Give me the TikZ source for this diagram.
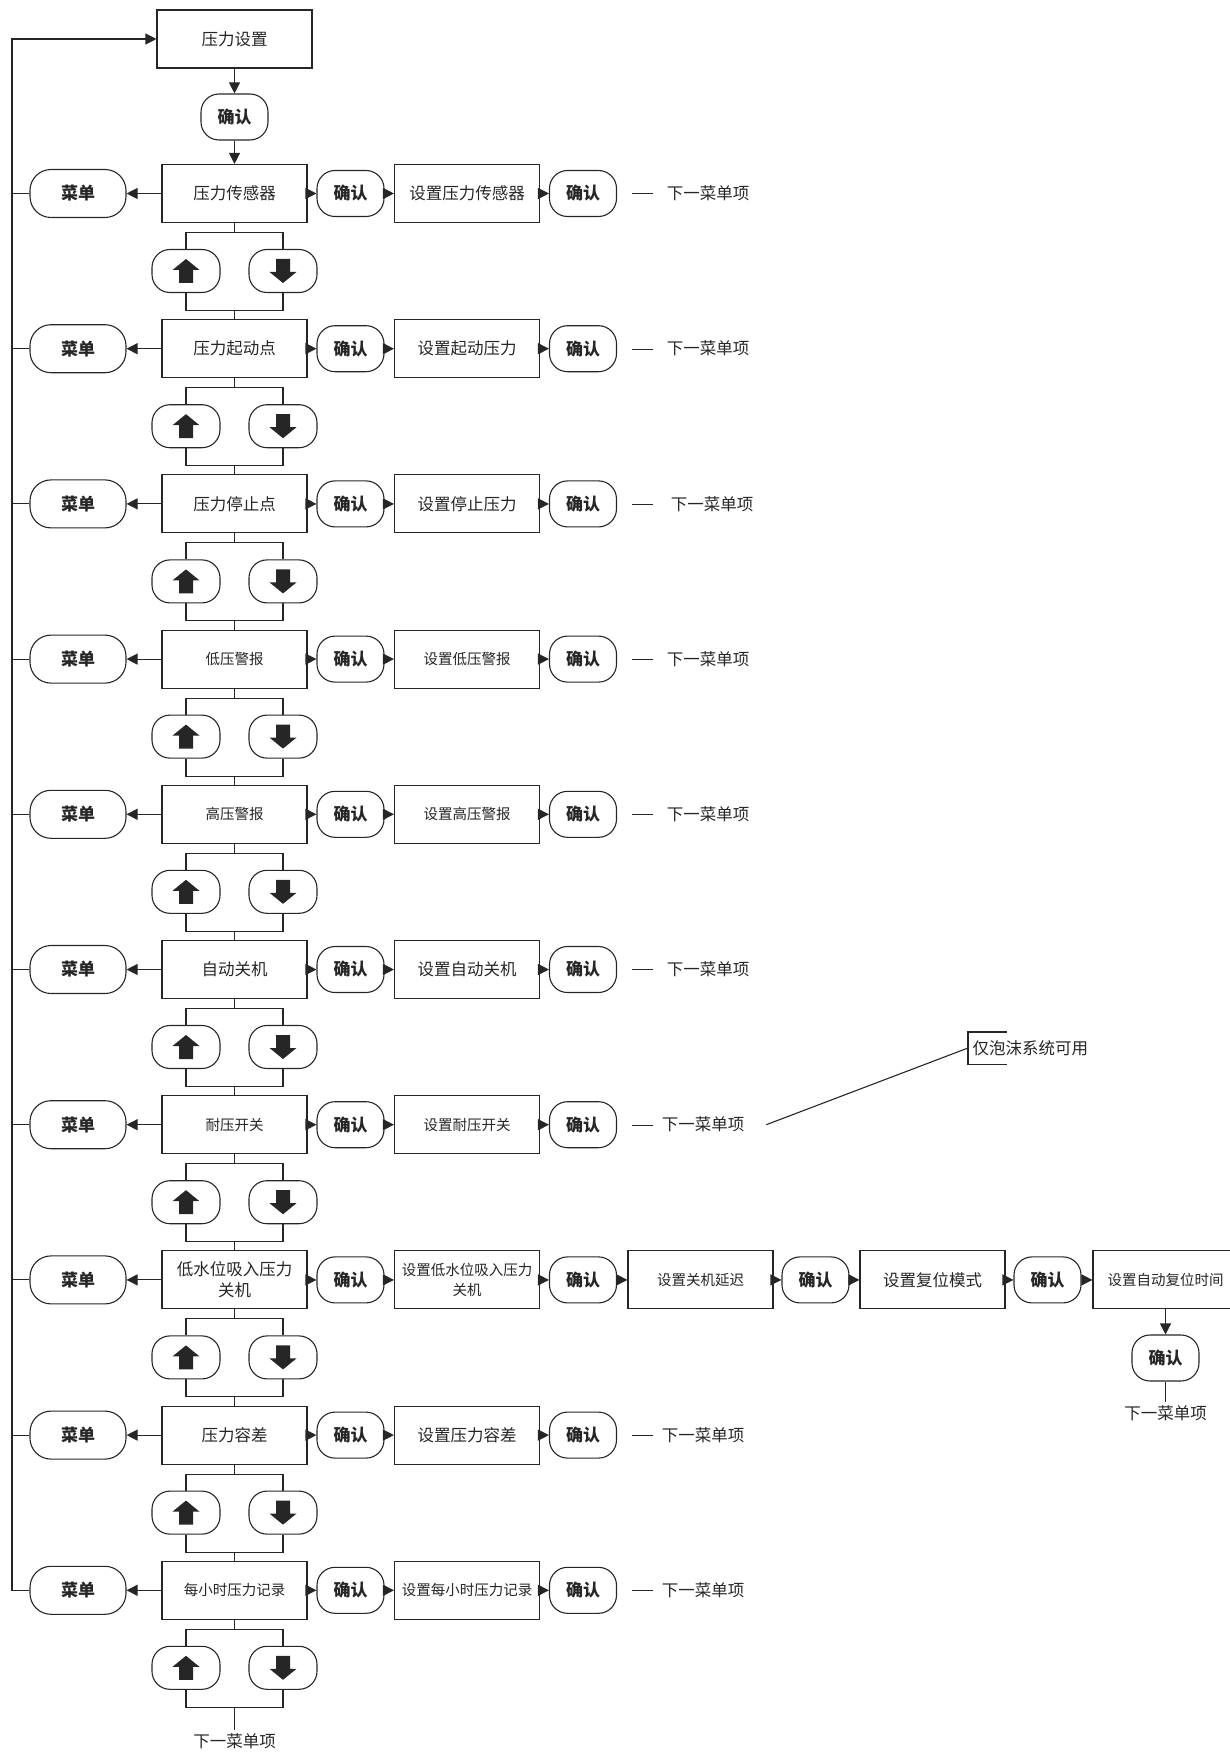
\documentclass[tikz,border=0pt]{standalone}
\usepackage{fontspec}
\setmainfont{Noto Sans CJK SC}
\usetikzlibrary{arrows.meta,positioning,calc}

\newcommand\fbig{\fontsize{16.5}{21}\selectfont}
\newcommand\fsmall{\fontsize{14.5}{20}\selectfont}
\newcommand\fkey{\bfseries\fontsize{17}{19}\selectfont}
\newcommand\nextdash{\rule[5.5pt]{21pt}{0.9pt}}

\begin{document}
\begin{tikzpicture}[x=1pt,y=-1pt,line width=1.1pt,color=black!85,
    box/.style={draw,rectangle,minimum width=145pt,minimum height=58pt,inner sep=2pt,align=center},
    btn/.style={draw,rectangle,rounded corners=18pt,minimum width=67pt,minimum height=46pt,inner sep=0pt,font=\fkey},
    menu/.style={btn,rounded corners=21pt,minimum width=96pt,minimum height=48pt},
    keybtn/.style={draw,rectangle,rounded corners=18pt,minimum width=68pt,minimum height=43pt,inner sep=0pt},
    arr/.style={-{Triangle[length=11pt,width=11pt]}},
    uparrow/.pic={\fill (0,-12) -- (13.5,-1) -- (7,-1) -- (7,12) -- (-7,12) -- (-7,-1) -- (-13.5,-1) -- cycle;},
    downarrow/.pic={\fill (0,12) -- (13.5,1) -- (7,1) -- (7,-12) -- (-7,-12) -- (-7,1) -- (-13.5,1) -- cycle;}]
  \useasboundingbox (0,0) rectangle (1230,1752);

  % Top
  \node[box,font=\fbig,minimum width=155pt] (top) at (234.5,39) {压力设置};
  \node[btn] (ok0) at (234.5,117) {确认};
  \coordinate (rail) at (12,39);

  % Menu rows
  \foreach \i/\txtm/\txts/\fntm/\fnts in {
      1/压力传感器/设置压力传感器/\fbig/\fbig,
      2/压力起动点/设置起动压力/\fbig/\fbig,
      3/压力停止点/设置停止压力/\fbig/\fbig,
      4/低压警报/设置低压警报/\fsmall/\fsmall,
      5/高压警报/设置高压警报/\fsmall/\fsmall,
      6/自动关机/设置自动关机/\fbig/\fbig,
      7/耐压开关/设置耐压开关/\fsmall/\fsmall,
      8/{低水位吸入压力\\关机}/{设置低水位吸入压力\\关机}/\fbig/\fsmall,
      9/压力容差/设置压力容差/\fbig/\fbig,
      10/每小时压力记录/设置每小时压力记录/\fsmall/\fsmall}
  {
    \pgfmathsetmacro\y{193.5+155.2*(\i-1)}
    \node[box,font=\fntm] (m\i) at (234.5,\y) {\txtm};
    \node[menu] (menu\i) at (78,\y) {菜单};
    \node[btn] (ok\i) at (350.5,\y) {确认};
    \node[box,font=\fnts] (set\i) at (467,\y) {\txts};
    \node[btn] (ack\i) at (583,\y) {确认};
    \node[keybtn] (up\i) at (186,\y+77.5) {};
    \node[keybtn] (dn\i) at (283,\y+77.5) {};
    \pic at (up\i) {uparrow};
    \pic at (dn\i) {downarrow};
    \coordinate (bt\i) at (234.5,\y+39);
    \coordinate (bb\i) at (234.5,\y+117);

    \draw[arr] (m\i) -- (menu\i);
    \draw[arr] (m\i) -- (ok\i);
    \draw[arr] (ok\i) -- (set\i);
    \draw[arr] (set\i) -- (ack\i);
    \draw (m\i) -- (bt\i);
    \draw (up\i) |- (bt\i) -| (dn\i);
    \draw (up\i) |- (bb\i) -| (dn\i);
  }

  % Next item labels
  \foreach \i/\g in {1/14,2/14,3/18,4/14,5/14,6/14,7/9,9/9,10/9}
    \node[anchor=west,font=\fbig] (n\i) at ($(ack\i)+(45,0)$) {\nextdash\hspace{\g pt}下一菜单项};

  % Connections
  \draw[arr] (top) -- (ok0);
  \draw[arr] (ok0) -- (m1);
  \foreach \i [evaluate=\i as \j using int(\i+1)] in {1,...,9} {
    \draw (bb\i) -- (m\j);
    \draw (menu\i.west) -- (menu\i.west -| rail);
  }
  \draw[arr] (menu10.west) -| (rail) -- (top);
  \node[font=\fbig] (n10b) at (234.5,1741) {下一菜单项};
  \draw (bb10) -- (n10b);

  % Low water chain
  \node[box,font=\fsmall] (delay) at (700.5,1279.9) {设置关机延迟};
  \node[btn] (ok81) at (815.5,1279.9) {确认};
  \node[box,font=\fbig] (reset) at (932.5,1279.9) {设置复位模式};
  \node[btn] (ok82) at (1047.5,1279.9) {确认};
  \node[box,font=\fsmall] (autotime) at (1165.5,1279.9) {设置自动复位时间};
  \node[btn] (ok83) at (1165.5,1358) {确认};
  \node[font=\fbig] (n8) at (1165.5,1413) {下一菜单项};
  \draw[arr] (ack8) -- (delay);
  \draw[arr] (delay) -- (ok81);
  \draw[arr] (ok81) -- (reset);
  \draw[arr] (reset) -- (ok82);
  \draw[arr] (ok82) -- (autotime);
  \draw[arr] (autotime) -- (ok83);
  \draw (ok83) -- (n8);

  % Note
  \node[anchor=west,font=\fbig,minimum height=31pt,inner xsep=4pt] (note) at (968,1048) {仅泡沫系统可用};
  \draw ([xshift=39pt]note.north west) -- (note.north west) -- (note.south west) -- ([xshift=39pt]note.south west);
  \draw ([xshift=18pt]n7.east) -- (note.west);
\end{tikzpicture}
\end{document}
